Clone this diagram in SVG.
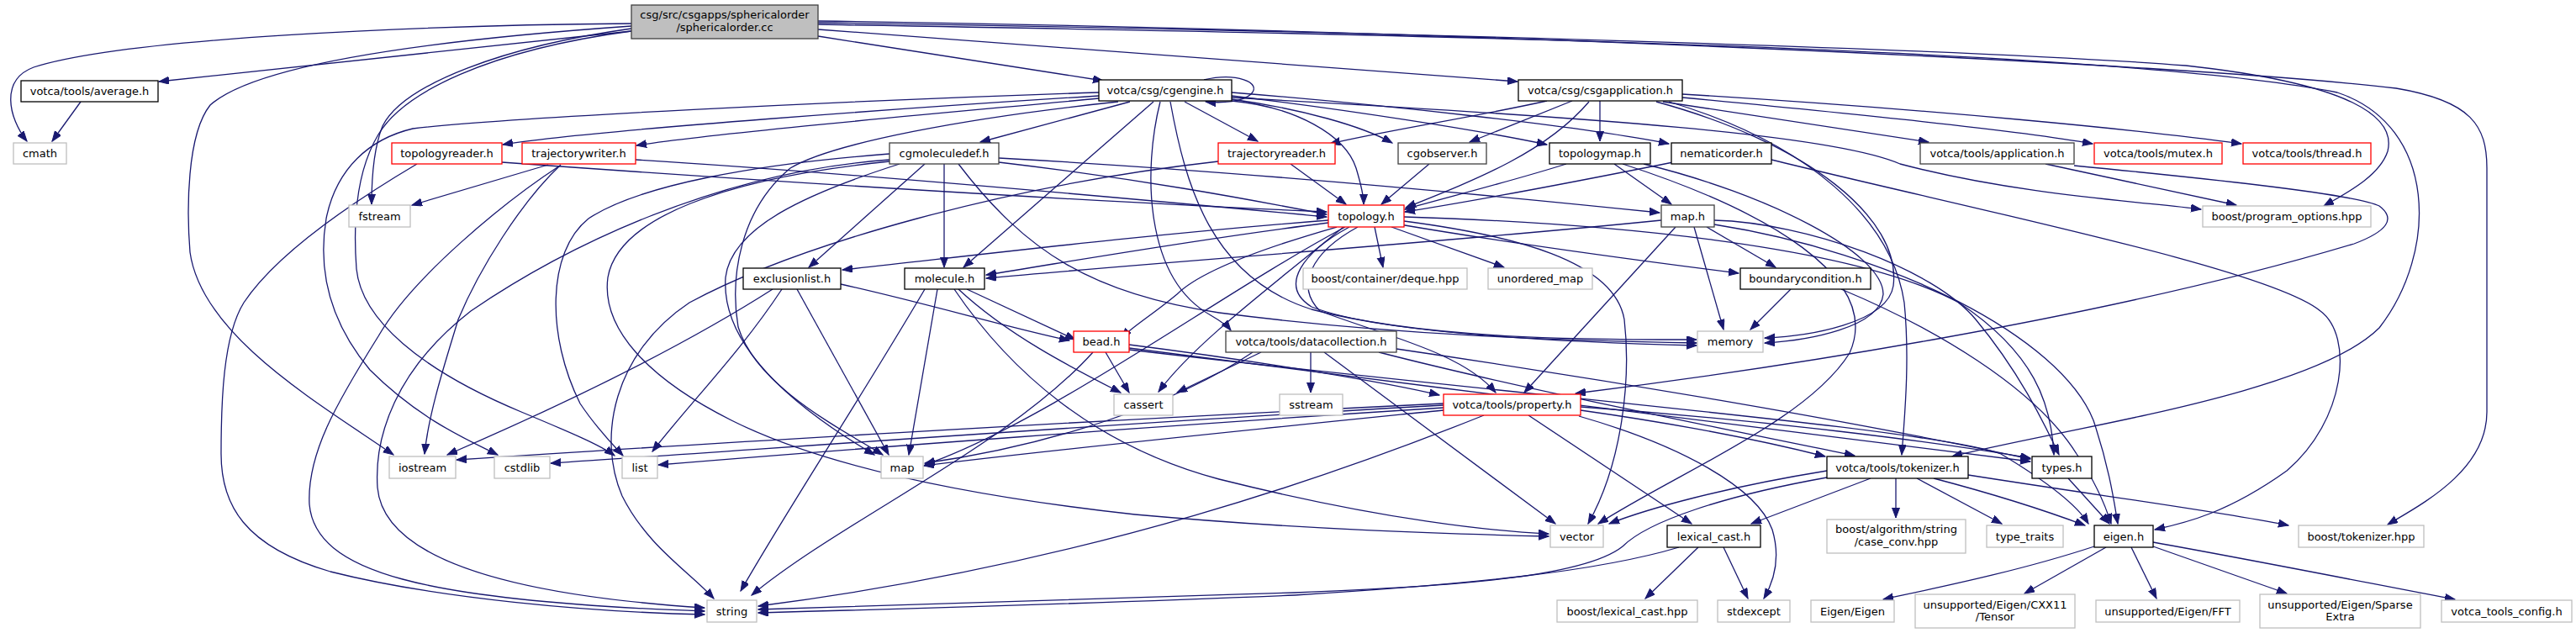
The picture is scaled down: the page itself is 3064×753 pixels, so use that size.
<svg xmlns="http://www.w3.org/2000/svg" width="3064" height="753" viewBox="0 0 3064 753">
<style>
.e path{fill:none;stroke:#191970;stroke-width:1.3;marker-end:url(#a)}
.n rect{fill:#fff;stroke:#000;stroke-width:1.3}
.n.d rect{stroke:#404040}
.n.g rect{stroke:#bfbfbf}
.n.r rect{stroke:#ff0000}
.n.root rect{fill:#bfbfbf;stroke:#404040}
text{font-family:"DejaVu Sans","Liberation Sans",sans-serif;font-size:13px;text-anchor:middle;fill:#000}
</style>
<defs>
<marker id="a" markerUnits="userSpaceOnUse" markerWidth="13" markerHeight="10" refX="12" refY="4.5" orient="auto">
<path d="M0,0 L12,4.5 L0,9 z" fill="#191970" stroke="#191970" stroke-width="1"/>
</marker>
</defs>
<rect width="3064" height="753" fill="#fff"/>
<g class="e" id="edges">
<path d="M751,28 C500,30 150,45 40,80 C0,95 10,140 32,168"/>
<path d="M751,37 L189,97"/>
<path d="M751,34 C600,55 480,100 455,150 C443,180 442,220 442,243"/>
<path d="M751,31 C480,50 300,80 250,125 C222,160 222,250 226,300 C240,400 380,480 468,541"/>
<path d="M1307,110 C1000,120 600,140 491,153 C440,165 400,200 388,260 C378,320 390,380 440,440 C500,500 560,525 592,541"/>
<path d="M751,37 C580,60 480,110 450,160 C420,210 421,280 424,320 C430,380 500,440 620,490 C680,515 715,530 731,542"/>
<path d="M973,43 L1312,96"/>
<path d="M973,35 L1805,97"/>
<path d="M973,27 C1500,35 2300,55 2600,78 C2800,100 2850,140 2840,180 C2830,210 2790,230 2764,245"/>
<path d="M973,29 C1600,40 2500,55 2780,110 C2900,150 2900,300 2830,390 C2750,470 2450,510 2322,543"/>
<path d="M973,25 C1700,35 2600,75 2850,105 C2940,120 2958,150 2958,200 L2958,490 C2958,560 2880,600 2840,624"/>
<path d="M96,121 L62,168"/>
<path d="M1432,95 C1470,86 1502,98 1488,112 C1478,121 1455,123 1434,121"/>
<path d="M1307,114 C1100,127 700,155 598,172"/>
<path d="M1307,117 C1150,132 850,158 757,173"/>
<path d="M1344,121 L1166,169"/>
<path d="M1409,121 L1496,168"/>
<path d="M1465,118 C1550,130 1620,150 1656,170"/>
<path d="M1465,114 C1600,130 1760,155 1840,172"/>
<path d="M1465,110 C1650,125 1880,150 1985,171"/>
<path d="M1465,120 C1540,127 1600,160 1613,200 C1619,220 1622,232 1622,243"/>
<path d="M1372,121 L1146,318"/>
<path d="M1380,121 C1360,200 1360,330 1440,375 C1452,382 1460,388 1464,393"/>
<path d="M1330,121 C1150,140 990,170 940,200 C880,250 868,330 878,389 C900,460 1000,510 1050,541"/>
<path d="M496,195 C420,240 330,300 290,360 C265,400 263,480 263,540 C263,600 290,650 393,680 C520,712 700,728 838,731"/>
<path d="M1392,121 C1410,220 1440,330 1560,368 C1700,405 1900,404 2018,404"/>
<path d="M1465,116 C1900,140 2180,160 2260,195 C2400,232 2550,240 2618,249"/>
<path d="M1840,120 C1750,140 1650,155 1582,171"/>
<path d="M1870,120 L1748,169"/>
<path d="M1903,120 L1903,168"/>
<path d="M1890,121 C1840,180 1760,212 1672,247"/>
<path d="M1978,121 L2294,169"/>
<path d="M2001,116 C2200,135 2400,155 2489,171"/>
<path d="M2001,112 C2300,130 2550,155 2666,171"/>
<path d="M1970,121 C2150,170 2262,260 2252,340 C2245,385 2150,400 2099,402"/>
<path d="M1985,121 C2150,170 2250,260 2265,360 C2272,430 2265,500 2262,541"/>
<path d="M597,193 C900,215 1300,240 1578,252"/>
<path d="M756,190 C1000,205 1300,232 1578,258"/>
<path d="M1188,193 C1350,212 1480,236 1578,255"/>
<path d="M1535,195 L1601,243"/>
<path d="M1700,195 L1643,243"/>
<path d="M1863,195 C1800,215 1720,235 1671,249"/>
<path d="M1990,193 C1880,215 1760,238 1671,252"/>
<path d="M1188,188 C1500,205 1800,235 1974,253"/>
<path d="M1920,195 L1988,243"/>
<path d="M652,196 L490,244"/>
<path d="M667,196 C620,240 570,320 545,380 C530,430 510,490 505,540"/>
<path d="M666,197 C600,240 490,330 450,400 C400,480 365,540 368,600 C375,680 500,715 838,727"/>
<path d="M1100,195 L962,318"/>
<path d="M1123,195 L1123,318"/>
<path d="M1140,195 C1220,300 1300,350 1450,372 C1650,398 1850,405 2018,408"/>
<path d="M1058,192 C860,212 735,260 723,330 C715,390 770,450 870,500 C980,555 1150,590 1350,612 C1550,630 1720,635 1842,638"/>
<path d="M1070,195 C960,230 870,270 863,330 C858,400 920,470 1040,541"/>
<path d="M1058,183 C900,195 760,220 700,260 C650,300 650,400 690,480 C710,510 730,530 741,542"/>
<path d="M1058,190 C850,205 670,295 560,370 C470,440 445,520 449,580 C455,650 560,705 838,723"/>
<path d="M1449,192 C1200,220 950,290 820,360 C730,420 710,520 740,590 C770,650 820,680 849,712"/>
<path d="M1000,338 C1100,360 1200,390 1272,405"/>
<path d="M919,344 C800,420 650,490 532,541"/>
<path d="M930,344 C880,420 820,480 776,537"/>
<path d="M948,344 L1057,541"/>
<path d="M1150,344 L1279,404"/>
<path d="M1140,344 C1200,400 1280,440 1333,467"/>
<path d="M1115,344 L1081,541"/>
<path d="M1100,344 C1020,480 940,600 881,703"/>
<path d="M1135,344 C1200,440 1300,530 1450,570 C1650,620 1780,632 1842,635"/>
<path d="M1580,262 C1350,280 1150,305 1002,321"/>
<path d="M1580,265 C1420,285 1280,310 1173,327"/>
<path d="M1590,270 C1520,290 1430,320 1400,350 C1370,375 1345,390 1334,402"/>
<path d="M1635,270 L1645,318"/>
<path d="M1655,270 L1789,318"/>
<path d="M1665,267 C1800,290 1950,310 2068,325"/>
<path d="M1605,270 C1550,300 1520,340 1560,365 C1650,400 1900,408 2018,411"/>
<path d="M1600,270 C1450,350 1250,500 1100,553"/>
<path d="M1670,263 C1800,280 1920,310 1932,380 C1940,450 1930,550 1889,623"/>
<path d="M1598,270 C1500,350 1420,410 1378,466"/>
<path d="M1615,270 C1560,300 1540,340 1570,370 C1650,400 1740,420 1779,467"/>
<path d="M1670,258 C1900,265 2200,290 2330,360 C2420,420 2440,480 2443,541"/>
<path d="M1559,419 L1559,467"/>
<path d="M1500,419 L1400,467"/>
<path d="M1575,419 L1850,623"/>
<path d="M1490,419 C1400,480 1250,530 1100,551"/>
<path d="M1661,415 C1900,450 2200,500 2415,546"/>
<path d="M1640,419 C1800,460 2000,500 2206,542"/>
<path d="M1315,419 L1343,467"/>
<path d="M1300,419 C1200,530 1000,620 894,708"/>
<path d="M1343,410 C1500,430 1650,455 1712,470"/>
<path d="M1343,414 C1700,460 2100,510 2415,549"/>
<path d="M1343,416 C1800,470 2300,510 2380,540 C2430,570 2470,600 2484,623"/>
<path d="M1717,480 C1300,500 800,530 543,547"/>
<path d="M1717,482 C1300,505 900,535 655,551"/>
<path d="M1717,485 C1400,505 1000,535 783,553"/>
<path d="M1717,488 C1500,510 1250,535 1099,554"/>
<path d="M1765,494 C1600,560 1300,670 902,721"/>
<path d="M1818,494 L2012,623"/>
<path d="M1878,495 C2000,530 2090,580 2108,630 C2120,670 2105,700 2098,712"/>
<path d="M1880,488 C2000,505 2100,525 2171,543"/>
<path d="M1880,484 C2100,500 2300,525 2415,545"/>
<path d="M1976,262 C1700,290 1400,310 1173,331"/>
<path d="M1993,270 L1813,467"/>
<path d="M2015,270 L2050,392"/>
<path d="M2030,270 L2112,318"/>
<path d="M2039,262 C2150,265 2300,320 2350,380 C2400,440 2430,500 2449,541"/>
<path d="M2039,267 C2250,300 2450,400 2490,500 C2510,560 2515,600 2519,623"/>
<path d="M1955,195 C2100,230 2240,300 2240,350 C2236,390 2150,405 2099,408"/>
<path d="M1930,195 C2100,250 2240,330 2200,420 C2150,500 2000,560 1901,623"/>
<path d="M2107,190 C2350,250 2700,320 2760,370 C2800,400 2790,500 2720,560 C2650,610 2600,622 2563,630"/>
<path d="M2173,560 C2050,580 1960,605 1914,623"/>
<path d="M2173,568 C2050,590 1960,620 1930,650 C1880,690 1700,698 1540,705 C1300,712 1050,720 902,725"/>
<path d="M1997,651 C1900,680 1750,695 1540,708 C1300,718 1050,725 902,729"/>
<path d="M2225,569 L2083,623"/>
<path d="M2255,569 L2255,616"/>
<path d="M2280,569 L2381,623"/>
<path d="M2300,569 C2380,590 2440,610 2480,625"/>
<path d="M2341,565 C2500,590 2650,610 2722,625"/>
<path d="M2460,569 L2509,623"/>
<path d="M2130,344 L2082,392"/>
<path d="M2190,344 C2300,390 2420,460 2470,540 C2497,580 2507,610 2511,623"/>
<path d="M2020,651 L1957,712"/>
<path d="M2050,651 L2079,712"/>
<path d="M2491,650 C2400,680 2300,700 2240,713"/>
<path d="M2505,651 L2408,706"/>
<path d="M2535,651 L2565,712"/>
<path d="M2561,650 L2720,706"/>
<path d="M2561,645 C2700,670 2850,700 2920,713"/>
<path d="M2433,195 L2660,244"/>
<path d="M2467,197 C2600,210 2800,230 2830,245 C2850,260 2840,275 2800,290 C2500,380 2100,440 1874,468"/>
</g>
<g id="n_root" class="n root"><rect x="751" y="6" width="222" height="40"/><text x="862" y="21.5">csg/src/csgapps/sphericalorder</text><text x="862" y="36.5">/sphericalorder.cc</text></g>
<g id="n_average" class="n"><rect x="25" y="96" width="163" height="25"/><text x="106.5" y="113">votca/tools/average.h</text></g>
<g id="n_cmath" class="n g"><rect x="16" y="170" width="63" height="25"/><text x="47.5" y="187">cmath</text></g>
<g id="n_cgengine" class="n"><rect x="1307" y="95" width="158" height="25"/><text x="1386" y="112">votca/csg/cgengine.h</text></g>
<g id="n_csgapp" class="n"><rect x="1806" y="95" width="195" height="25"/><text x="1903.5" y="112">votca/csg/csgapplication.h</text></g>
<g id="n_topologyreader" class="n r"><rect x="466" y="170" width="131" height="25"/><text x="531.5" y="187">topologyreader.h</text></g>
<g id="n_trajectorywriter" class="n r"><rect x="621" y="170" width="135" height="25"/><text x="688.5" y="187">trajectorywriter.h</text></g>
<g id="n_cgmoleculedef" class="n d"><rect x="1058" y="170" width="130" height="25"/><text x="1123" y="187">cgmoleculedef.h</text></g>
<g id="n_trajectoryreader" class="n r"><rect x="1449" y="170" width="139" height="25"/><text x="1518.5" y="187">trajectoryreader.h</text></g>
<g id="n_cgobserver" class="n d"><rect x="1663" y="170" width="105" height="25"/><text x="1715.5" y="187">cgobserver.h</text></g>
<g id="n_topologymap" class="n"><rect x="1843" y="170" width="120" height="25"/><text x="1903" y="187">topologymap.h</text></g>
<g id="n_nematicorder" class="n"><rect x="1988" y="170" width="119" height="25"/><text x="2047.5" y="187">nematicorder.h</text></g>
<g id="n_application" class="n d"><rect x="2284" y="170" width="183" height="25"/><text x="2375.5" y="187">votca/tools/application.h</text></g>
<g id="n_mutex" class="n r"><rect x="2491" y="170" width="152" height="25"/><text x="2567" y="187">votca/tools/mutex.h</text></g>
<g id="n_thread" class="n r"><rect x="2668" y="170" width="152" height="25"/><text x="2744" y="187">votca/tools/thread.h</text></g>
<g id="n_fstream" class="n g"><rect x="415" y="244" width="73" height="26"/><text x="451.5" y="261.5">fstream</text></g>
<g id="n_topology" class="n r"><rect x="1580" y="244" width="90" height="26"/><text x="1625" y="261.5">topology.h</text></g>
<g id="n_maph" class="n d"><rect x="1976" y="244" width="63" height="26"/><text x="2007.5" y="261.5">map.h</text></g>
<g id="n_progopts" class="n g"><rect x="2620" y="245" width="200" height="25"/><text x="2720" y="262">boost/program_options.hpp</text></g>
<g id="n_exclusionlist" class="n"><rect x="884" y="319" width="116" height="25"/><text x="942" y="336">exclusionlist.h</text></g>
<g id="n_molecule" class="n"><rect x="1076" y="319" width="95" height="25"/><text x="1123.5" y="336">molecule.h</text></g>
<g id="n_deque" class="n g"><rect x="1550" y="319" width="195" height="25"/><text x="1647.5" y="336">boost/container/deque.hpp</text></g>
<g id="n_unordered_map" class="n g"><rect x="1770" y="319" width="124" height="25"/><text x="1832" y="336">unordered_map</text></g>
<g id="n_boundarycondition" class="n"><rect x="2070" y="319" width="155" height="25"/><text x="2147.5" y="336">boundarycondition.h</text></g>
<g id="n_bead" class="n r"><rect x="1277" y="394" width="66" height="25"/><text x="1310" y="411">bead.h</text></g>
<g id="n_datacollection" class="n d"><rect x="1458" y="394" width="203" height="25"/><text x="1559.5" y="411">votca/tools/datacollection.h</text></g>
<g id="n_memory" class="n g"><rect x="2019" y="394" width="78" height="25"/><text x="2058" y="411">memory</text></g>
<g id="n_cassert" class="n g"><rect x="1325" y="469" width="70" height="25"/><text x="1360" y="486">cassert</text></g>
<g id="n_sstream" class="n g"><rect x="1522" y="469" width="75" height="25"/><text x="1559.5" y="486">sstream</text></g>
<g id="n_property" class="n r"><rect x="1717" y="469" width="163" height="25"/><text x="1798.5" y="486">votca/tools/property.h</text></g>
<g id="n_iostream" class="n g"><rect x="463" y="543" width="79" height="26"/><text x="502.5" y="560.5">iostream</text></g>
<g id="n_cstdlib" class="n g"><rect x="588" y="543" width="66" height="26"/><text x="621" y="560.5">cstdlib</text></g>
<g id="n_list" class="n g"><rect x="740" y="543" width="42" height="26"/><text x="761" y="560.5">list</text></g>
<g id="n_map" class="n g"><rect x="1048" y="543" width="50" height="26"/><text x="1073" y="560.5">map</text></g>
<g id="n_tokenizer" class="n"><rect x="2173" y="543" width="168" height="26"/><text x="2257" y="560.5">votca/tools/tokenizer.h</text></g>
<g id="n_types" class="n"><rect x="2417" y="543" width="71" height="26"/><text x="2452.5" y="560.5">types.h</text></g>
<g id="n_vector" class="n g"><rect x="1844" y="625" width="63" height="26"/><text x="1875.5" y="642.5">vector</text></g>
<g id="n_lexical_cast" class="n"><rect x="1983" y="625" width="111" height="26"/><text x="2038.5" y="642.5">lexical_cast.h</text></g>
<g id="n_caseconv" class="n g"><rect x="2173" y="618" width="165" height="40"/><text x="2255.5" y="633.5">boost/algorithm/string</text><text x="2255.5" y="648.5">/case_conv.hpp</text></g>
<g id="n_typetraits" class="n g"><rect x="2363" y="625" width="91" height="26"/><text x="2408.5" y="642.5">type_traits</text></g>
<g id="n_eigen" class="n"><rect x="2491" y="625" width="70" height="26"/><text x="2526" y="642.5">eigen.h</text></g>
<g id="n_boosttokenizer" class="n g"><rect x="2734" y="625" width="149" height="26"/><text x="2808.5" y="642.5">boost/tokenizer.hpp</text></g>
<g id="n_string" class="n g"><rect x="841" y="714" width="59" height="26"/><text x="870.5" y="731.5">string</text></g>
<g id="n_boostlexcast" class="n g"><rect x="1852" y="714" width="167" height="26"/><text x="1935.5" y="731.5">boost/lexical_cast.hpp</text></g>
<g id="n_stdexcept" class="n g"><rect x="2043" y="714" width="86" height="26"/><text x="2086" y="731.5">stdexcept</text></g>
<g id="n_eigeneigen" class="n g"><rect x="2154" y="714" width="99" height="26"/><text x="2203.5" y="731.5">Eigen/Eigen</text></g>
<g id="n_tensor" class="n g"><rect x="2278" y="707" width="190" height="40"/><text x="2373" y="723.5">unsupported/Eigen/CXX11</text><text x="2373" y="738">/Tensor</text></g>
<g id="n_fft" class="n g"><rect x="2493" y="714" width="171" height="26"/><text x="2578.5" y="731.5">unsupported/Eigen/FFT</text></g>
<g id="n_sparse" class="n g"><rect x="2688" y="707" width="191" height="40"/><text x="2783.5" y="723.5">unsupported/Eigen/Sparse</text><text x="2783.5" y="738">Extra</text></g>
<g id="n_config" class="n g"><rect x="2904" y="714" width="155" height="26"/><text x="2981.5" y="731.5">votca_tools_config.h</text></g>
</svg>
